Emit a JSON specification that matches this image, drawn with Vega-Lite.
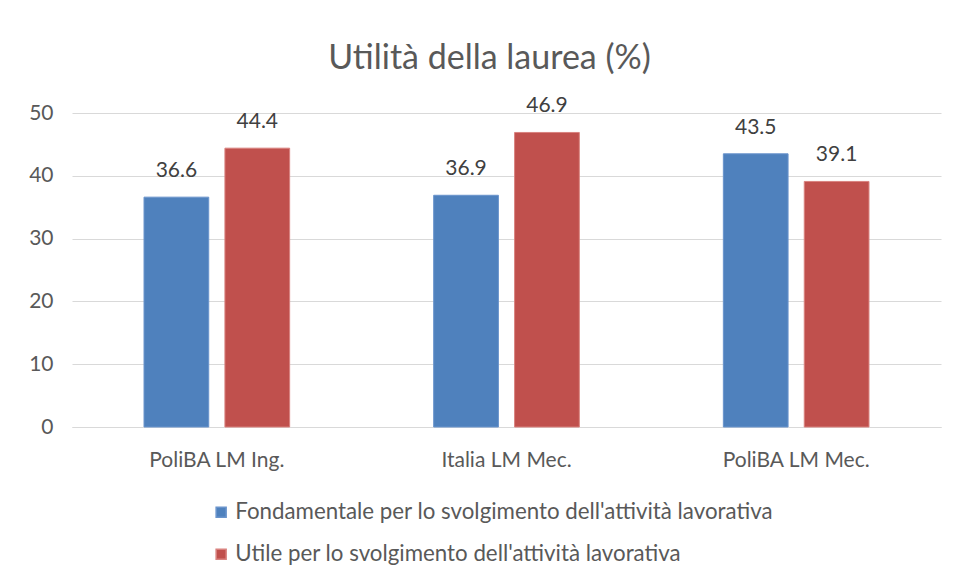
{
  "$schema": "https://vega.github.io/schema/vega-lite/v6.json",
  "autosize": {"type": "none"},
  "width": 869,
  "height": 314,
  "padding": {"left": 72, "top": 113, "right": 16, "bottom": 155},
  "background": "white",
  "config": {
    "font": "Lato",
    "view": {"stroke": null},
    "axis": {"labelColor": "#595959", "labelFont": "Lato", "labelFontSize": 21, "titleColor": "#595959"},
    "legend": {"labelColor": "#595959", "labelFont": "Lato", "labelFontSize": 22.3, "labelLimit": 800}
  },
  "title": {
    "text": "Utilità della laurea (%)",
    "fontSize": 34,
    "font": "Lato",
    "fontWeight": "normal",
    "color": "#595959",
    "anchor": "middle",
    "offset": 19,
    "dx": -17
  },
  "data": {
    "values": [
      {"cat": "PoliBA LM Ing.", "serie": "Fondamentale per lo svolgimento dell'attività lavorativa", "v": 36.6},
      {"cat": "PoliBA LM Ing.", "serie": "Utile per lo svolgimento dell'attività lavorativa", "v": 44.4},
      {"cat": "Italia LM Mec.", "serie": "Fondamentale per lo svolgimento dell'attività lavorativa", "v": 36.9},
      {"cat": "Italia LM Mec.", "serie": "Utile per lo svolgimento dell'attività lavorativa", "v": 46.9},
      {"cat": "PoliBA LM Mec.", "serie": "Fondamentale per lo svolgimento dell'attività lavorativa", "v": 43.5},
      {"cat": "PoliBA LM Mec.", "serie": "Utile per lo svolgimento dell'attività lavorativa", "v": 39.1}
    ]
  },
  "encoding": {
    "x": {
      "field": "cat", "type": "nominal", "sort": null, "title": null,
      "scale": {"paddingInner": 0, "paddingOuter": 0},
      "axis": {"labelAngle": 0, "ticks": false, "domainColor": "#D9D9D9", "domainWidth": 1, "labelPadding": 22, "grid": false}
    },
    "xOffset": {
      "field": "serie", "type": "nominal", "sort": null,
      "scale": {"paddingInner": 0.2, "paddingOuter": 0.89}
    },
    "y": {
      "field": "v", "type": "quantitative", "title": null,
      "scale": {"domain": [0, 50]},
      "axis": {"values": [0, 10, 20, 30, 40, 50], "ticks": false, "domain": false, "gridColor": "#D9D9D9", "gridWidth": 1, "labelPadding": 19}
    }
  },
  "layer": [
    {
      "mark": {"type": "bar", "strokeWidth": 1},
      "encoding": {
        "color": {
          "field": "serie", "type": "nominal", "sort": null, "title": null,
          "scale": {"range": ["#4F81BD", "#C0504D"]},
          "legend": {"orient": "none", "legendX": 138, "legendY": 388, "direction": "vertical", "symbolType": "square", "symbolSize": 100, "rowPadding": 19, "labelOffset": 3}
        },
        "stroke": {
          "field": "serie", "type": "nominal", "sort": null,
          "scale": {"range": ["#6A94CC", "#D9827F"]},
          "legend": null
        }
      }
    },
    {
      "mark": {"type": "text", "dy": -26, "fontSize": 21, "color": "#404040", "font": "Lato"},
      "encoding": {"text": {"field": "v", "type": "quantitative", "format": ".1f"}}
    }
  ]
}
